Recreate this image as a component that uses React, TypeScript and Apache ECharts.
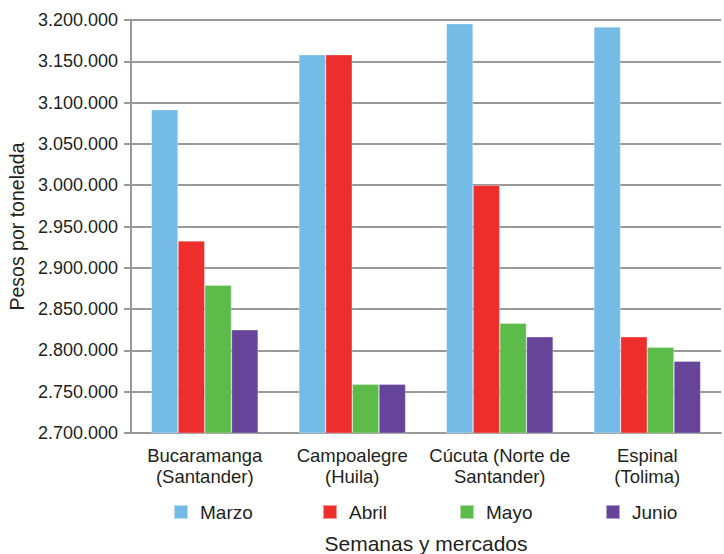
import React, { useEffect, useRef } from "react";
import * as echarts from "echarts";

const categories = [
  "Bucaramanga\n(Santander)",
  "Campoalegre\n(Huila)",
  "Cúcuta (Norte de\nSantander)",
  "Espinal\n(Tolima)",
];
const seriesNames = ["Marzo", "Abril", "Mayo", "Junio"];
const marzo = [3091500, 3158000, 3195500, 3191500];
const abril = [2932500, 3158000, 3000000, 2816500];
const mayo = [2879000, 2759000, 2833000, 2804000];
const junio = [2825000, 2759000, 2816500, 2787000];
const colors = ["#74BBE6", "#EE2E2D", "#5DBB4A", "#65449A"];
const legendLefts = [173, 322, 459, 605];

const fmt = (v: number) =>
  String(Math.round(v)).replace(/\B(?=(\d{3})+(?!\d))/g, ".");

export default function App() {
  const ref = useRef<HTMLDivElement>(null);
  useEffect(() => {
    if (!ref.current) return;
    const chart = echarts.init(ref.current, null, { renderer: "svg" });
    const font = "Liberation Sans, Arial, sans-serif";
    const textColor = "#231f20";
    const data = [marzo, abril, mayo, junio];
    chart.setOption({
      animation: false,
      textStyle: { fontFamily: font },
      grid: {
        left: 131,
        right: 3,
        top: 20,
        bottom: 121,
        containLabel: false,
        outerBoundsMode: "none",
      },
      legend: seriesNames.map((n, i) => ({
        data: [n],
        left: legendLefts[i],
        top: 502,
        itemWidth: 14,
        itemHeight: 14,
        itemGap: 0,
        icon: "rect",
        textStyle: {
          fontFamily: font,
          fontSize: 19,
          color: textColor,
          padding: [0, 0, 0, 7],
          lineHeight: 20,
        },
        padding: 0,
      })),
      xAxis: {
        type: "category",
        data: categories,
        name: "Semanas y mercados",
        nameLocation: "middle",
        nameGap: 99,
        nameTextStyle: {
          fontFamily: font,
          fontSize: 21,
          color: textColor,
          lineHeight: 22,
        },
        axisLine: { lineStyle: { color: "#999", width: 2 } },
        axisTick: { show: false },
        axisLabel: {
          fontFamily: font,
          fontSize: 18.5,
          color: textColor,
          lineHeight: 21,
          margin: 12,
          interval: 0,
        },
      },
      yAxis: {
        type: "value",
        min: 2700000,
        max: 3200000,
        interval: 50000,
        name: "Pesos por tonelada",
        nameLocation: "middle",
        nameGap: 98,
        nameTextStyle: { fontFamily: font, fontSize: 19.5, color: textColor },
        axisLine: { show: true, lineStyle: { color: "#999", width: 2 } },
        axisTick: { show: true, length: 7, lineStyle: { color: "#999", width: 2 } },
        splitLine: { lineStyle: { color: "#999", width: 2 } },
        axisLabel: {
          fontFamily: font,
          fontSize: 18,
          color: textColor,
          margin: 13,
          formatter: (v: number) => fmt(v),
        },
      },
      series: seriesNames.map((n, i) => ({
        name: n,
        type: "bar",
        data: data[i],
        barGap: "0%",
        barCategoryGap: "27.6%",
        itemStyle: {
          color: colors[i],
          borderColor: "rgba(255,255,255,0.5)",
          borderWidth: 0.6,
        },
      })),
    });
    return () => chart.dispose();
  }, []);
  return <div ref={ref} style={{ width: 724, height: 554, position: "absolute", left: 0, top: 0 }} />;
}
